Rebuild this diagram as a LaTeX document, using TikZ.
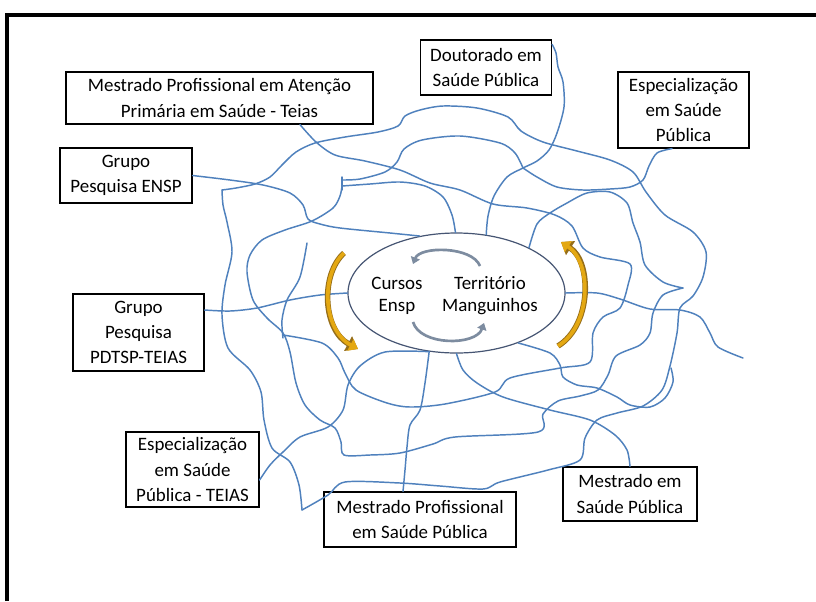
\documentclass[tikz,border=0pt]{standalone}
\usepackage{fontspec}
\setmainfont{Carlito}
\usetikzlibrary{shapes.geometric,arrows.meta,calc}
\definecolor{webblue}{RGB}{79,129,189}
\definecolor{goldfill}{RGB}{228,168,18}
\definecolor{goldedge}{RGB}{150,110,25}
\definecolor{arcgray}{RGB}{125,140,160}
\definecolor{ellgray}{RGB}{70,85,115}
\begin{document}
\begin{tikzpicture}[x=0.75pt,y=-0.75pt,
  box/.style={draw=black,line width=0.9pt,fill=white,inner sep=0pt,align=center,font=\fontsize{14.2}{18.8}\selectfont},
  web/.style={draw=webblue,line width=1.1pt,line join=round,line cap=round},
  ctext/.style={align=center,inner sep=0pt,font=\fontsize{14.2}{16.5}\selectfont},
  goldedgearrow/.style={draw=goldedge,line width=4.2pt,-{Triangle[length=8.5pt,width=12pt]}},
  goldarrow/.style={draw=goldfill,line width=2.8pt,-{Triangle[length=6.5pt,width=9.5pt]}},
  innerarc/.style={draw=arcgray,line width=2pt,-{Triangle[length=5pt,width=7pt]}}]
\useasboundingbox (0,0) rectangle (816,601);
\fill[white] (0,0) rectangle (816,601);
\draw[line width=3pt] (7,601) -- (7,15) -- (816,15);

% boxes
\node[box,minimum width=230.25pt,minimum height=39pt] (mpa) at (219.5,98) {Mestrado Profissional em Atenção\\Primária em Saúde - Teias};
\node[box,minimum width=99pt,minimum height=41.25pt] (gpe) at (126,175.5) {Grupo\\Pesquisa ENSP};
\node[box,minimum width=98.25pt,minimum height=41.25pt] (dsp) at (486,67.5) {Doutorado em\\Saúde Pública};
\node[box,minimum width=98.25pt,minimum height=57pt] (esp) at (683.5,110) {Especialização\\em Saúde\\Pública};
\node[box,minimum width=98.25pt,minimum height=57.75pt] (gpp) at (138.5,332.5) {Grupo\\Pesquisa\\PDTSP-TEIAS};
\node[box,minimum width=99.75pt,minimum height=56.25pt] (est) at (192.5,469.5) {Especialização\\em Saúde\\Pública - TEIAS};
\node[box,minimum width=144pt,minimum height=41.25pt] (mps) at (420,519.5) {Mestrado Profissional\\em Saúde Pública};
\node[box,minimum width=100.5pt,minimum height=40.5pt] (msp) at (630,494) {Mestrado em\\Saúde Pública};

% central ellipse
\node[draw=ellgray,ellipse,line width=0.9pt,minimum width=162.75pt,minimum height=90pt,inner sep=0pt] (ell) at (456.5,293) {};
\node[ctext] (cur) at (397,296) {Cursos\\Ensp};
\node[ctext] (ter) at (490,296) {Território\\Manguinhos};

% attachment points
\coordinate (aMpa) at ($(mpa.south)+(80.5,0)$);
\coordinate (aDsp) at ($(dsp.north east)+(0,5)$);
\coordinate (aEsp) at ($(esp.south)+(-11.5,0)$);
\coordinate (aGpp) at ($(gpp.east)+(0,-22.5)$);
\coordinate (aEst) at ($(est.east)+(0,10.5)$);
\coordinate (aMps) at ($(mps.north)+(-17,0)$);

% web
\draw[web] plot[smooth] coordinates {(aMpa) (316,142) (335,155) (365,161) (400,170) (430,183) (460,190) (493,204) (527,208) (555,215) (572,226) (583,248) (600,257) (630,264) (628,285) (620,308) (603,317) (593,333) (590,362) (560,368) (510,378) (495,392) (445,404) (410,407) (387,403) (356,390) (345,373) (338,358) (322,343) (283,335)};
\draw[web] plot[smooth] coordinates {(aDsp) (556,53) (558,67) (563,82) (564,107) (557,133) (549,150) (537,161) (523,168) (507,177) (494,196) (488,216) (ell.63)};
\draw[web] plot[smooth] coordinates {(222,190) (223,205) (227,222) (232,252) (225,285) (222,315) (228,348) (250,370) (261,392) (264,420) (272,448) (290,462) (299,485) (302,510)};
\draw[web] plot[smooth] coordinates {(222,190) (236,188) (255,184) (270,177) (282,165) (296,152) (315,143) (345,137) (378,132) (398,126) (405,116) (420,110) (443,106) (477,108) (508,117) (521,131) (543,142) (577,151) (610,160) (633,172) (646,192) (665,215) (693,232) (706,252) (703,277) (693,296) (680,308) (677,333) (670,366) (662,390) (643,406) (617,413) (597,420) (585,438) (580,460) (548,470) (500,482) (483,489) (440,486) (400,483) (345,482) (328,495) (302,510)};
\draw[web] plot[smooth] coordinates {(342,180) (360,179) (385,172) (397,162) (404,149) (422,140) (460,136) (500,143) (515,153) (523,168)};
\draw[web] plot[smooth] coordinates {(aEsp) (657,153) (649,166) (643,180) (630,187) (610,189) (583,190) (557,187) (537,177) (523,168)};
\draw[web] plot[smooth] coordinates {(342,186) (370,184) (400,182) (425,186) (443,197) (452,215) (ell.91)};
\draw[web] plot[smooth] coordinates {(342,186) (340,196) (333,208) (312,221) (285,230) (262,240) (250,255) (247,272) (253,300) (267,318) (283,333) (290,352) (296,383) (305,405) (320,420) (335,428) (341,442) (344,455) (370,455) (400,453) (433,444) (455,437) (538,432) (543,414) (558,401) (580,396) (598,390) (608,375) (616,356) (640,345) (650,333) (653,313) (663,295) (683,288)};
\draw[web] plot[smooth] coordinates {(ell.32) (537,224) (550,213) (567,203) (587,193) (610,192) (627,203) (633,223) (640,242) (645,265) (663,282) (683,288)};
\draw[web] plot[smooth] coordinates {(ell.0) (597,293) (620,299) (650,309) (680,310) (700,317) (710,333) (718,347) (743,358)};
\draw[web] plot[smooth] coordinates {(ell.321) (550,353) (560,365) (563,377) (577,385) (597,388) (617,397) (630,405) (650,407) (665,398) (673,382) (671,368)};
\draw[web] plot[smooth] coordinates {(ell.270) (463,370) (477,383) (503,397) (550,410) (590,420) (615,435) (627,450) (msp.north)};
\draw[web] plot[smooth] coordinates {(ell.245) (425,383) (420,410) (410,425) (407,447) (405,470) (aMps)};
\draw[web] plot[smooth] coordinates {(ell.245) (385,352) (360,366) (348,385) (343,410) (328,427) (300,437) (283,452) (270,465) (aEst)};
\draw[web] plot[smooth] coordinates {(aGpp) (230,311) (257,308) (290,300) (320,295) (ell.180)};
\draw[web] plot[smooth] coordinates {(gpe.east) (230,180) (263,185) (290,193) (303,205) (308,219) (320,224) (340,228) (390,233) (ell.123)};
\draw[web] plot[smooth] coordinates {(307,243) (300,277) (287,300) (282,320) (283,338)};
\draw[web] (342,177) -- (342,190);

% gold arrows
\draw[goldedgearrow] (344,253) .. controls (320,275) and (323,330) .. (358,349);
\draw[goldarrow] (344,253) .. controls (320,275) and (323,330) .. (358,349);
\draw[goldedgearrow] (558,346) .. controls (592,325) and (592,262) .. (561,242);
\draw[goldarrow] (558,346) .. controls (592,325) and (592,262) .. (561,242);

% inner cycle arcs
\draw[innerarc] (480,266) .. controls (472,246) and (420,246) .. (413,264);
\draw[innerarc] (413,322) .. controls (420,346) and (476,346) .. (484,323);
\end{tikzpicture}
\end{document}
